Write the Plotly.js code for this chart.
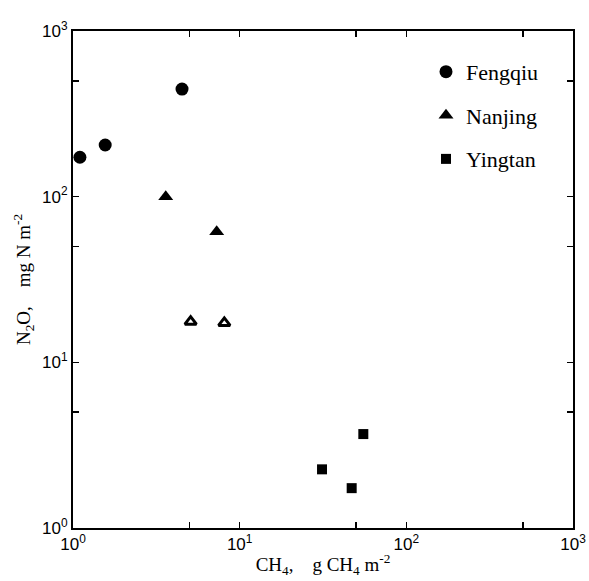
<!DOCTYPE html>
<html>
<head>
<meta charset="utf-8">
<script src="https://cdn.plot.ly/plotly-3.0.1.min.js"></script>
<style>html,body{margin:0;padding:0;background:#fff;}#chart{width:589px;height:581px;}</style>
</head>
<body>
<div id="chart"></div>
<script>
// Data (log-log scatter)
const fengqiuCH4 = [1.10, 1.56, 4.51];
const fengqiuN2O = [173, 205, 446];

const nanjingCH4 = [3.60, 7.28];
const nanjingN2O = [100, 61.4];
const nanjingOpenCH4 = [5.08, 8.09];
const nanjingOpenN2O = [17.6, 17.3];

const yingtanCH4 = [55.2, 31.2, 47.0];
const yingtanN2O = [3.69, 2.26, 1.74];

const tickVals = [1, 5, 10, 50, 100, 500, 1000];
const tickText = ['10<sup>0</sup>', '', '10<sup>1</sup>', '', '10<sup>2</sup>', '', '10<sup>3</sup>'];

const serif = 'Liberation Serif';
const sans = 'Liberation Sans';

const traces = [
  {x: fengqiuCH4, y: fengqiuN2O, name: 'Fengqiu', mode: 'markers', type: 'scatter',
   legendgroup: 'a', marker: {symbol: 'circle', size: 13, color: '#000'}},
  {x: nanjingCH4, y: nanjingN2O, name: 'Nanjing', mode: 'markers', type: 'scatter',
   legendgroup: 'b', marker: {symbol: 'triangle-up', size: 13, color: '#000'}},
  {x: nanjingOpenCH4, y: nanjingOpenN2O, name: 'Nanjing', mode: 'markers', type: 'scatter',
   legendgroup: 'b', showlegend: false,
   marker: {symbol: 'triangle-up', size: 10, color: '#fff', line: {color: '#000', width: 3}}},
  {x: yingtanCH4, y: yingtanN2O, name: 'Yingtan', mode: 'markers', type: 'scatter',
   legendgroup: 'c', marker: {symbol: 'square', size: 10, color: '#000'}}
];

const axisCommon = {
  type: 'log',
  range: [0, 3],
  tickmode: 'array',
  tickvals: tickVals,
  ticktext: tickText,
  ticks: 'inside',
  ticklen: 6,
  tickwidth: 1.5,
  tickcolor: '#000',
  showline: true,
  linecolor: '#000',
  linewidth: 2,
  mirror: 'ticks',
  showgrid: false,
  zeroline: false,
  tickfont: {family: sans, size: 17, color: '#000'}
};

const layout = {
  width: 589, height: 581,
  margin: {l: 73, r: 16, t: 31, b: 53},
  paper_bgcolor: '#fff', plot_bgcolor: '#fff',
  font: {family: serif, color: '#000'},
  showlegend: true,
  legend: {
    x: 0.706, y: 0.96, xanchor: 'left', yanchor: 'top',
    font: {family: serif, size: 22, color: '#000'},
    tracegroupgap: 12,
    bgcolor: 'rgba(0,0,0,0)'
  },
  xaxis: Object.assign({}, axisCommon, {
    title: {text: 'CH<sub>4</sub>,\u00a0\u00a0\u00a0\u00a0g CH<sub>4</sub> m<sup>-2</sup>',
            font: {family: serif, size: 19, color: '#000'}, standoff: 4}
  }),
  yaxis: Object.assign({}, axisCommon, {
    title: {text: 'N<sub>2</sub>O,\u00a0\u00a0\u00a0\u00a0mg N m<sup>-2</sup>',
            font: {family: serif, size: 19, color: '#000'}, standoff: 6}
  })
};

Plotly.newPlot('chart', traces, layout, {displayModeBar: false, staticPlot: true});
</script>
</body>
</html>
